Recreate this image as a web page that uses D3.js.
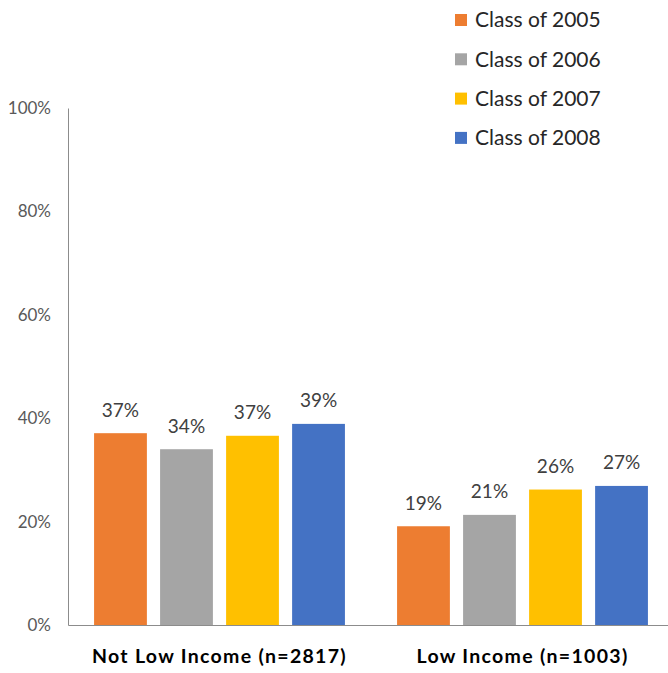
<!DOCTYPE html>
<html>
<head>
<meta charset="utf-8">
<script src="https://cdn.jsdelivr.net/npm/d3@7"></script>
<style>
  body { margin: 0; background: #fff; }
  svg { display: block; }
</style>
</head>
<body>
<svg id="canvas" width="668" height="673"></svg>
<script>
// chart data
const groups = ['Not Low Income (n=2817)', 'Low Income (n=1003)'];
const classes = ['Class of 2005', 'Class of 2006', 'Class of 2007', 'Class of 2008'];
const notLowIncome = [0.371, 0.340, 0.366, 0.389];
const lowIncome = [0.191, 0.213, 0.262, 0.269];
const colors = ['#ed7d31', '#a5a5a5', '#ffc000', '#4472c4'];
const yTicks = [0, 0.2, 0.4, 0.6, 0.8, 1];

const rows = [notLowIncome, lowIncome].map((vals, g) =>
  vals.map((v, i) => ({ group: groups[g], cls: classes[i], value: v }))
);

const canvas = d3.select('#canvas');
const font = 'Lato, "Open Sans", sans-serif';
const plotLeft = 68, plotRight = 674, plotTop = 108, plotBottom = 625;

const x0 = d3.scaleBand().domain(groups).range([plotLeft, plotRight]);
const x1 = d3.scaleBand().domain(classes).range([0, x0.bandwidth()]).paddingInner(0.2).paddingOuter(0.395);
const y = d3.scaleLinear().domain([0, 1]).range([plotBottom, plotTop]);

// y axis
const yAxis = canvas.append('g')
  .attr('transform', `translate(${plotLeft},0)`)
  .call(d3.axisLeft(y).tickValues(yTicks).tickFormat(d3.format('.0%')).tickSize(0).tickPadding(17));
yAxis.select('.domain').attr('stroke', '#8c8c8c');
yAxis.selectAll('text')
  .attr('font-family', font)
  .attr('font-size', 17)
  .attr('fill', '#595959');

// x axis line + category labels
const xAxis = canvas.append('g')
  .attr('transform', `translate(0,${plotBottom})`)
  .call(d3.axisBottom(x0).tickSize(0).tickPadding(24));
xAxis.select('.domain').attr('stroke', '#8c8c8c');
xAxis.selectAll('text')
  .attr('font-family', font)
  .attr('font-weight', 'bold')
  .attr('font-size', 19.5)
  .attr('letter-spacing', 1.3)
  .attr('fill', '#000');

// bars
const grp = canvas.selectAll('g.grp')
  .data(rows)
  .enter()
  .append('g')
  .attr('class', 'grp')
  .attr('transform', d => `translate(${x0(d[0].group)},0)`);

grp.selectAll('rect')
  .data(d => d)
  .enter()
  .append('rect')
  .attr('x', d => x1(d.cls))
  .attr('y', d => y(d.value))
  .attr('width', x1.bandwidth())
  .attr('height', d => plotBottom - y(d.value))
  .attr('fill', (d, i) => colors[i]);

grp.selectAll('text')
  .data(d => d)
  .enter()
  .append('text')
  .attr('x', d => x1(d.cls) + x1.bandwidth() / 2)
  .attr('y', d => y(d.value) - 16.5)
  .attr('text-anchor', 'middle')
  .attr('font-family', font)
  .attr('font-size', 19)
  .attr('fill', '#404040')
  .text(d => d3.format('.0%')(d.value));

// legend
const legend = canvas.append('g').attr('transform', 'translate(455,14)');
const item = legend.selectAll('g')
  .data(classes)
  .enter()
  .append('g')
  .attr('transform', (d, i) => `translate(0,${i * 39.3})`);
item.append('rect')
  .attr('width', 12)
  .attr('height', 12)
  .attr('fill', (d, i) => colors[i]);
item.append('text')
  .attr('x', 20)
  .attr('y', 6)
  .attr('dy', '0.35em')
  .attr('font-family', font)
  .attr('font-size', 21)
  .attr('fill', '#262626')
  .text(d => d);
</script>
</body>
</html>
